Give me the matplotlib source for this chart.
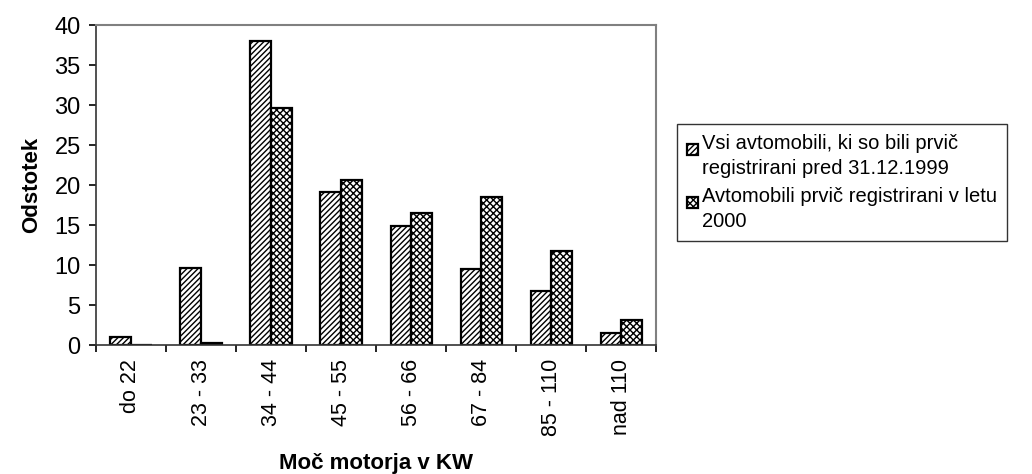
import numpy as np
import matplotlib.pyplot as plt
from matplotlib.patches import Rectangle
from matplotlib.container import BarContainer
from matplotlib.legend_handler import HandlerPatch, update_from_first_child

plt.rcParams['font.family'] = ['Liberation Sans', 'DejaVu Sans']
plt.rcParams['hatch.linewidth'] = 1.0

categories = ["do 22", "23 - 33", "34 - 44", "45 - 55", "56 - 66", "67 - 84", "85 - 110", "nad 110"]
vsi = [1.0, 9.6, 38.0, 19.1, 14.9, 9.5, 6.7, 1.5]
leto2000 = [0.0, 0.3, 29.6, 20.6, 16.5, 18.5, 11.7, 3.1]
labels = ["Vsi avtomobili, ki so bili prvič\nregistrirani pred 31.12.1999",
          "Avtomobili prvič registrirani v letu\n2000"]

fig = plt.figure(figsize=(10.32, 4.74), dpi=100)
ax = fig.add_axes([0.093, 0.272, 0.543, 0.675])

x = np.arange(len(categories))
width = 0.295

ax.bar(x - width/2, vsi, width=width, color="white", edgecolor="black",
       linewidth=1.6, hatch="//////", label=labels[0])
ax.bar(x + width/2, leto2000, width=width, color="white", edgecolor="black",
       linewidth=1.6, hatch="xxxxx", label=labels[1])

ax.set_xlim(-0.5, len(categories) - 0.5)
ax.set_ylim(0, 40)
ax.set_yticks(np.arange(0, 41, 5))

# labels at the centres, tick marks on the category boundaries
ax.set_xticks(x)
ax.set_xticklabels(categories, rotation=90, fontsize=15.5)
ax.set_xticks(np.arange(-0.5, len(categories)), minor=True)
ax.tick_params(axis="x", which="major", length=0, pad=10)
ax.tick_params(axis="x", which="minor", length=5, width=1.2, direction="out")
ax.tick_params(axis="y", length=5, width=1.2, labelsize=17, pad=6)

for side in ["top", "right"]:
    ax.spines[side].set_color("#808080")
    ax.spines[side].set_linewidth(1.5)
for side in ["left", "bottom"]:
    ax.spines[side].set_color("#333333")
    ax.spines[side].set_linewidth(1.2)

ax.set_ylabel("Odstotek", fontsize=16, fontweight="bold", labelpad=9)
ax.set_xlabel("Moč motorja v KW", fontsize=16, fontweight="bold", labelpad=12)


# small square key sitting next to the first line of a two-line label
def top_square(legend, orig_handle, xdescent, ydescent, width, height, fontsize):
    s = width
    return Rectangle((-xdescent, -ydescent + height - s - 2), s, s)


leg = fig.legend(loc="upper left", bbox_to_anchor=(677/1032, 1 - 124/474),
                 fontsize=14.5, frameon=True, fancybox=False, edgecolor="black",
                 handlelength=0.55, handleheight=2.1, handletextpad=0.2,
                 borderpad=0.5, labelspacing=0.45, borderaxespad=0,
                 handler_map={BarContainer: HandlerPatch(patch_func=top_square,
                                                         update_func=update_from_first_child)})
leg.get_frame().set_linewidth(1.0)
for t in leg.get_texts():
    t.set_linespacing(1.4)

fig.savefig("out.png", dpi=100)
